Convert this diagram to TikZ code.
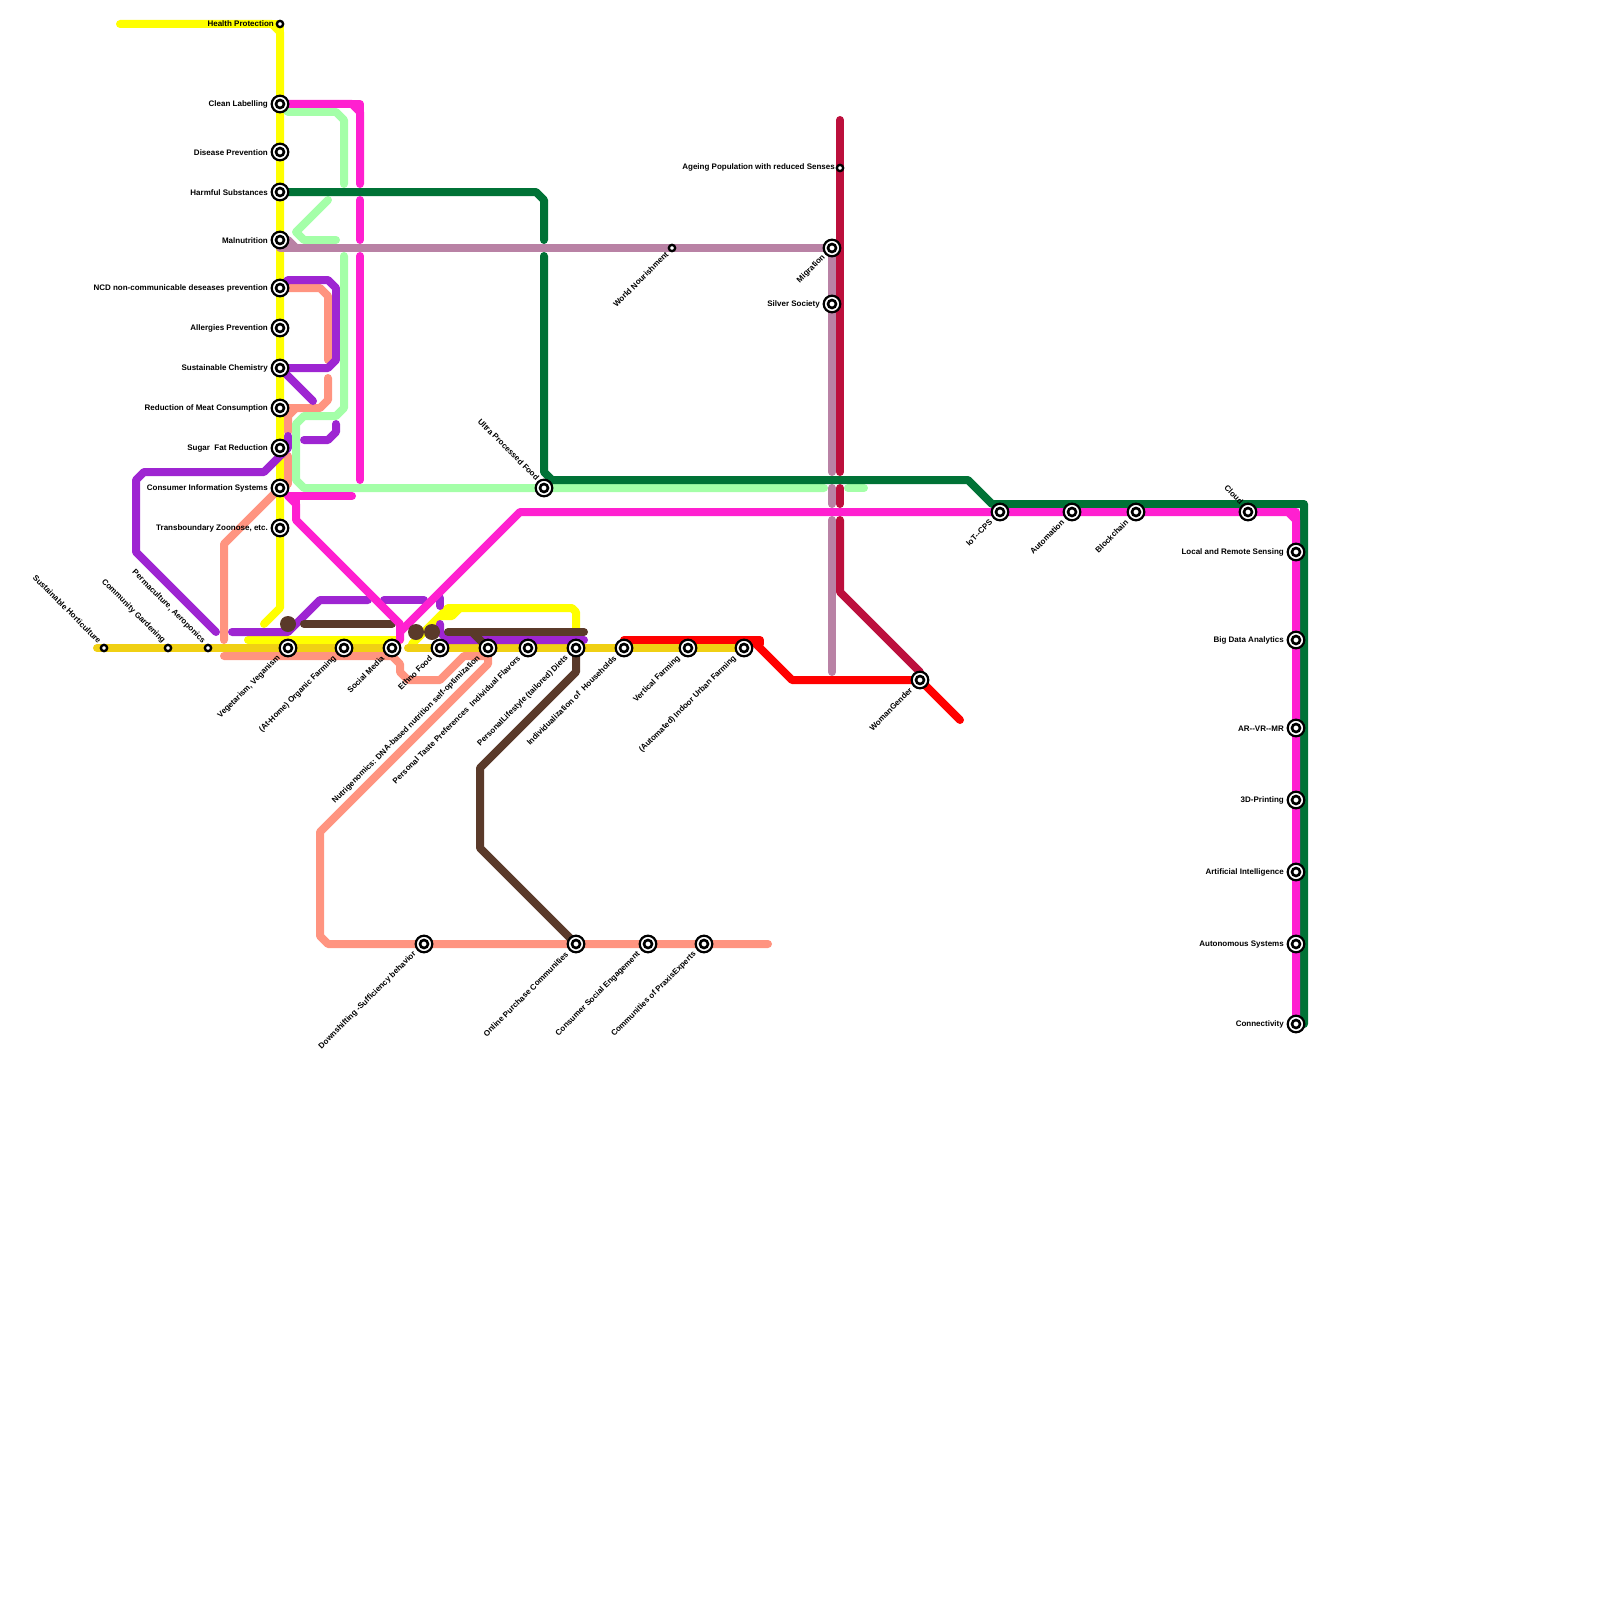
\documentclass[tikz,border=0pt]{standalone}
\usepackage{fontspec}
\setmainfont{Liberation Sans}
\usetikzlibrary{backgrounds}
\definecolor{cyel}{HTML}{FFFF00}
\definecolor{cgold}{HTML}{F0D014}
\definecolor{cmag}{HTML}{FF20D0}
\definecolor{clgr}{HTML}{A4FFA8}
\definecolor{cdgr}{HTML}{007236}
\definecolor{cpur}{HTML}{9E25D2}
\definecolor{csal}{HTML}{FF9480}
\definecolor{cmau}{HTML}{B982A5}
\definecolor{ccri}{HTML}{BC0F3C}
\definecolor{cred}{HTML}{FF0000}
\definecolor{cbrn}{HTML}{5A3A2A}
\tikzset{
  metro/.style={line width=8pt,line cap=round,line join=round},
  bigst/.style={circle,draw=black,fill=white,line width=2.2pt,minimum size=16.6pt,inner sep=0pt,outer sep=0pt},
  bigin/.style={circle,draw=black,fill=white,line width=2.6pt,minimum size=8pt,inner sep=0pt,outer sep=0pt},
  smallst/.style={circle,draw=black,fill=white,line width=2.3pt,minimum size=6.3pt,inner sep=0pt,outer sep=0pt},
  blob/.style={circle,fill=cbrn,minimum size=16pt,inner sep=0pt,outer sep=0pt},
  lab/.style={font=\fontsize{8}{9}\selectfont\bfseries,inner sep=0pt,text=black},
  labL/.style={lab,anchor=east},
  labSW/.style={lab,anchor=east,rotate=45},
  labNW/.style={lab,anchor=east,rotate=-45}
}
\newcommand{\bigstn}[3]{\node[bigst] (#1) at (#2,#3) {}; \node[bigin] (#1-i) at (#2,#3) {};}
\newcommand{\stL}[4]{\bigstn{#1}{#2}{#3}\node[labL] (#1-t) at (#2-12,#3+0.6) {#4};}
\newcommand{\stSW}[4]{\bigstn{#1}{#2}{#3}\node[labSW] (#1-t) at (#2-9,#3+9) {#4};}
\newcommand{\stNW}[4]{\bigstn{#1}{#2}{#3}\node[labNW] (#1-t) at (#2-6,#3-9) {#4};}
\begin{document}
\begin{tikzpicture}[x=1pt,y=-1pt]
\useasboundingbox (0,0) rectangle (1600,1600);
% stations
\node[smallst] (health) at (280,24) {};
\node[labL] (health-t) at (274,23.8) {Health Protection};
\stL{clean}{280}{104}{Clean Labelling}
\stL{disease}{280}{152}{Disease Prevention}
\stL{harmful}{280}{192}{Harmful Substances}
\stL{malnut}{280}{240}{Malnutrition}
\stL{ncd}{280}{288}{NCD non-communicable deseases prevention}
\stL{allerg}{280}{328}{Allergies Prevention}
\stL{suschem}{280}{368}{Sustainable Chemistry}
\stL{meat}{280}{408}{Reduction of Meat Consumption}
\stL{sugar}{280}{448}{Sugar~~Fat Reduction}
\stL{consinfo}{280}{488}{Consumer Information Systems}
\stL{zoonose}{280}{528}{Transboundary Zoonose, etc.}
\node[smallst] (horti) at (104,648) {};
\node[labNW] (horti-t) at (100,642) {Sustainable Horticulture};
\node[smallst] (garden) at (168,648) {};
\node[labNW] (garden-t) at (164,642) {Community Gardening};
\node[smallst] (perma) at (208,648) {};
\node[labNW] (perma-t) at (204,642) {Permaculture, Aeroponics};
\stSW{vegan}{288}{648}{Vegetarism, Veganism}
\stSW{organic}{344}{648}{(At-Home) Organic Farming}
\stSW{social}{392}{648}{Social Media}
\stSW{ethno}{440}{648}{Ethno Food}
\stSW{nutri}{488}{648}{Nutrigenomics: DNA-based nutrition self-optimization}
\stSW{taste}{528}{648}{Personal Taste Preferences~~Individual Flavors}
\stSW{diets}{576}{648}{PersonalLifestyle (tailored) Diets}
\stSW{househ}{624}{648}{Individualization of~~Households}
\stSW{vertical}{688}{648}{Vertical Farming}
\stSW{indoor}{744}{648}{(Automated) Indoor Urban Farming}
\stSW{downsh}{424}{944}{Downshifting -Sufficiency behavior}
\stSW{online}{576}{944}{Online Purchase Communities}
\stSW{engage}{648}{944}{Consumer Social Engagement}
\stSW{praxis}{704}{944}{Communities of PraxisExperts}
\stSW{woman}{920}{680}{WomanGender}
\stSW{iot}{1000}{512}{IoT-{}-CPS}
\stSW{autom}{1072}{512}{Automation}
\stSW{block}{1136}{512}{Blockchain}
\stNW{cloud}{1248}{512}{Cloud}
\stNW{ultra}{544}{488}{Ultra Processed Food}
\stL{sensing}{1296}{552}{Local and Remote Sensing}
\stL{bigdata}{1296}{640}{Big Data Analytics}
\stL{arvr}{1296}{728}{AR-{}-VR-{}-MR}
\stL{print}{1296}{800}{3D-Printing}
\stL{ai}{1296}{872}{Artificial Intelligence}
\stL{autonom}{1296}{944}{Autonomous Systems}
\stL{connect}{1296}{1024}{Connectivity}
\node[smallst] (ageing) at (840,168) {};
\node[labL] (ageing-t) at (835,167.8) {Ageing Population with reduced Senses};
\node[smallst] (world) at (672,248) {};
\node[labSW] (world-t) at (667,253) {World Nourishment};
\bigstn{migr}{832}{248}
\node[labSW] (migr-t) at (824,256) {Migration};
\stL{silver}{832}{304}{Silver Society}
\node[blob] (blobA) at (288,624) {};
\node[blob] (blobB) at (416,632) {};
\node[blob] (blobC) at (432,632) {};
\begin{scope}[on background layer]
% yellow
\draw[metro,cyel] (120,24) -- (272,24) -- (280,32) -- (280,608) -- (264,624);
\draw[metro,cyel] (272,24) -- (280,24) -- (280,32);
\draw[metro,cyel] (248,640) -- (400,640);
\draw[metro,cyel] (412,644) -- (448,608) -- (572,608) -- (576,612) -- (576,628);
\draw[metro,cyel] (440,616) -- (452,616) -- (460,608);
% gold
\draw[metro,cgold] (97,648) -- (392,648);
\draw[metro,cgold] (408,648) -- (indoor.center);
% salmon
\draw[metro,csal] (224,640) -- (224,544) -- (consinfo.center);
\draw[metro,csal] (224,656) -- (392,656) -- (400,664) -- (400,672) -- (408,680) -- (440,680) -- (464,656) -- (488,656) -- (488,664) -- (320,832) -- (320,936) -- (328,944) -- (768,944);
\draw[metro,csal] (ncd.center) -- (320,288) -- (328,296) -- (328,360);
\draw[metro,csal] (328,378) -- (328,400) -- (320,408) -- (meat.center);
\draw[metro,csal] (296,408) -- (288,416) -- (288,432);
\draw[metro,csal] (288,456) -- (288,484);
% purple
\draw[metro,cpur] (ncd.center) -- (288,280) -- (328,280) -- (336,288) -- (336,360) -- (328,368) -- (suschem.center);
\draw[metro,cpur] (suschem.center) -- (313,401);
\draw[metro,cpur] (288,436) -- (288,448) -- (264,472) -- (144,472) -- (136,480) -- (136,552) -- (216,632);
\draw[metro,cpur] (304,440) -- (328,440) -- (336,432) -- (336,424);
\draw[metro,cpur] (232,632) -- (288,632) -- (320,600) -- (368,600);
\draw[metro,cpur] (384,600) -- (424,600);
\draw[metro,cpur] (440,598) -- (440,606);
\draw[metro,cpur] (440,624) -- (440,632) -- (448,640) -- (584,640);
% light green
\draw[metro,clgr] (clean.center) -- (288,112) -- (336,112) -- (344,120) -- (344,184);
\draw[metro,clgr] (328,200) -- (296,232) -- (304,240) -- (336,240);
\draw[metro,clgr] (344,256) -- (344,408) -- (336,416) -- (304,416) -- (296,424) -- (296,480) -- (304,488) -- (824,488);
\draw[metro,clgr] (848,488) -- (864,488);
% mauve
\draw[metro,cmau,line cap=butt] (malnut.center) -- (288,240) -- (296,248);
\draw[metro,cmau,line cap=butt] (malnut.center) -- (280,248) -- (296,248);
\draw[metro,cmau] (296,248) -- (832,248) -- (832,472);
\draw[metro,cmau] (832,488) -- (832,504);
\draw[metro,cmau] (832,520) -- (832,672);
% crimson
\draw[metro,ccri] (840,120) -- (840,472);
\draw[metro,ccri] (840,488) -- (840,504);
\draw[metro,ccri] (840,520) -- (840,592) -- (920,672) -- (woman.center);
% red
\draw[metro,cred] (624,640) -- (760,640) -- (760,644);
\draw[metro,cred] (indoor.center) -- (752,640) -- (792,680) -- (woman.center) -- (960,720);
% brown
\draw[metro,cbrn] (304,624) -- (392,624);
\draw[metro,cbrn] (448,632) -- (584,632);
\draw[metro,cbrn] (472,632) -- (nutri.center);
\draw[metro,cbrn] (diets.center) -- (576,672) -- (480,768) -- (480,848) -- (online.center);
% dark green
\draw[metro,cdgr] (harmful.center) -- (536,192) -- (544,200) -- (544,240);
\draw[metro,cdgr] (544,256) -- (544,472) -- (552,480) -- (968,480) -- (992,504) -- (1304,504) -- (1304,1024);
% magenta
\draw[metro,cmag] (clean.center) -- (352,104) -- (360,112) -- (360,184);
\draw[metro,cmag] (352,104) -- (360,104) -- (360,112);
\draw[metro,cmag] (360,200) -- (360,240);
\draw[metro,cmag] (360,256) -- (360,480);
\draw[metro,cmag] (288,496) -- (352,496);
\draw[metro,cmag] (288,496) -- (296,504) -- (296,520) -- (400,624) -- (400,640);
\draw[metro,cmag] (296,496) -- (296,504);
\draw[metro,cmag] (400,632) -- (520,512) -- (1288,512) -- (1296,520) -- (connect.center);
\draw[metro,cmag] (1288,512) -- (1296,512) -- (1296,520);
\end{scope}
\end{tikzpicture}
\end{document}
